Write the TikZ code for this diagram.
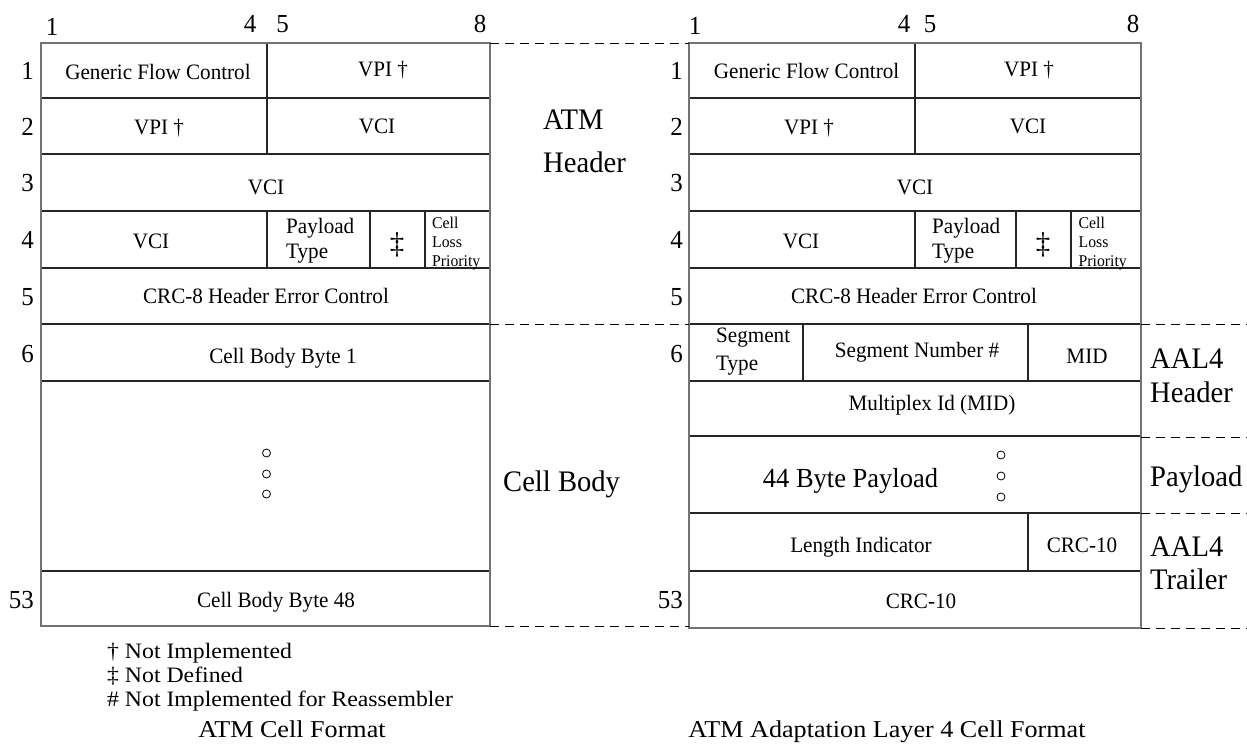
\documentclass[tikz,border=0pt]{standalone}
\usepackage{fontspec}
\setmainfont{Liberation Serif}
\newfontfamily\fa[FakeStretch=0.96]{Liberation Serif}
\newfontfamily\fb[FakeStretch=1.08]{Liberation Serif}
\begin{document}
\begin{tikzpicture}[x=1pt,y=-1pt,
  cell/.style={font=\fa\fontsize{22}{24}\selectfont, inner sep=0pt, anchor=base},
  cellw/.style={cell, anchor=base west},
  big/.style={font=\fa\fontsize{29.8}{34}\selectfont, inner sep=0pt, anchor=base west},
  num/.style={font=\fa\fontsize{26}{28}\selectfont, inner sep=0pt, anchor=base},
  rnum/.style={num, anchor=base east},
  small/.style={font=\fa\fontsize{16.4}{19}\selectfont, inner sep=0pt, anchor=base west},
  dag/.style={font=\fa\fontsize{30}{32}\selectfont, inner sep=0pt, anchor=base},
  note/.style={font=\fb\fontsize{22}{24}\selectfont, inner sep=0pt, anchor=base west},
  capt/.style={font=\fb\fontsize{24.2}{26}\selectfont, inner sep=0pt, anchor=base},
  border/.style={draw=black!55, line width=1.4pt},
  inner/.style={draw=black!85, line width=1.1pt},
  sep/.style={draw=black, line width=1pt, dash pattern=on 9pt off 6pt},
  dot/.style={circle, draw, line width=0.8pt, minimum size=8pt, inner sep=0pt}]
\useasboundingbox (0,0) rectangle (1247,744);

% ---------- left table lines ----------
\foreach \yy in {98,154,211,268,324,381,571}
  \draw[inner] (41,\yy) -- (490,\yy);
\draw[inner] (267,43) -- (267,154);
\draw[inner] (267,211) -- (267,268);
\draw[inner] (370,211) -- (370,268);
\draw[inner] (425,211) -- (425,268);
\draw[border] (41,43) rectangle (490,626);

% ---------- right table lines ----------
\foreach \yy in {98,154,211,268,324,381,436,513,571}
  \draw[inner] (689,\yy) -- (1141,\yy);
\draw[inner] (915,43) -- (915,154);
\draw[inner] (915,211) -- (915,268);
\draw[inner] (1016,211) -- (1016,268);
\draw[inner] (1071,211) -- (1071,268);
\draw[inner] (803,324) -- (803,381);
\draw[inner] (1028,324) -- (1028,381);
\draw[inner] (1028,513) -- (1028,571);
\draw[border] (689,43) rectangle (1141,628);

% ---------- dashed separators ----------
\draw[sep] (490,43.5) -- (689,43.5);
\draw[sep] (490,324) -- (689,324);
\draw[sep] (490,626) -- (689,626);
\draw[sep] (1141,324) -- (1247,324);
\draw[sep] (1141,437) -- (1247,437);
\draw[sep] (1141,513) -- (1247,513);
\draw[sep] (1141,628) -- (1247,628);

% ---------- column numbers ----------
\node[num] (cl1) at (52,35) {1};
\node[num] (cl4) at (250,32) {4};
\node[num] (cl5) at (282.5,32) {5};
\node[num] (cl8) at (480,32) {8};
\node[num] (cr1) at (695,34) {1};
\node[num] (cr4) at (904,32) {4};
\node[num] (cr5) at (930,32) {5};
\node[num] (cr8) at (1133,32) {8};

% ---------- row numbers ----------
\node[rnum] (rl1) at (34,79) {1};
\node[rnum] (rl2) at (34,135) {2};
\node[rnum] (rl3) at (34,191) {3};
\node[rnum] (rl4) at (34,248) {4};
\node[rnum] (rl5) at (34,305) {5};
\node[rnum] (rl6) at (34,362) {6};
\node[rnum] (rl53) at (34,608) {53};
\node[rnum] (rr1) at (683,79) {1};
\node[rnum] (rr2) at (683,135) {2};
\node[rnum] (rr3) at (683,191) {3};
\node[rnum] (rr4) at (683,248) {4};
\node[rnum] (rr5) at (683,305) {5};
\node[rnum] (rr6) at (683,362) {6};
\node[rnum] (rr53) at (683,608) {53};

% ---------- left table text ----------
\node[cell] (gfcL) at (158,79) {Generic Flow Control};
\node[cell] (vpiL1) at (383,76) {VPI †};
\node[cell] (vpiL2) at (159,134) {VPI †};
\node[cell] (vciL2) at (377,133) {VCI};
\node[cell] (vciL3) at (266,194) {VCI};
\node[cell] (vciL4) at (151,248) {VCI};
\node[cellw] (ptL1) at (286,233) {Payload};
\node[cellw] (ptL2) at (286,258) {Type};
\node[dag] (ddL) at (397,253) {‡};
\node[small] (clpL1) at (432,228) {Cell};
\node[small] (clpL2) at (432,247) {Loss};
\node[small] (clpL3) at (432,266) {Priority};
\node[cell] (crcL) at (266,303) {CRC-8 Header Error Control};
\node[cell] (cb1) at (283,363) {Cell Body Byte 1};
\node[dot] (dL1) at (266.5,453) {};
\node[dot] (dL2) at (266.5,474) {};
\node[dot] (dL3) at (266.5,494) {};
\node[cell] (cb48) at (276,607) {Cell Body Byte 48};

% ---------- right table text ----------
\node[cell] (gfcR) at (806.6,78) {Generic Flow Control};
\node[cell] (vpiR1) at (1029,76) {VPI †};
\node[cell] (vpiR2) at (809,134) {VPI †};
\node[cell] (vciR2) at (1028,133) {VCI};
\node[cell] (vciR3) at (915,194) {VCI};
\node[cell] (vciR4) at (801,248) {VCI};
\node[cellw] (ptR1) at (932,233) {Payload};
\node[cellw] (ptR2) at (932,258) {Type};
\node[dag] (ddR) at (1043,253) {‡};
\node[small] (clpR1) at (1078.5,228) {Cell};
\node[small] (clpR2) at (1078.5,247) {Loss};
\node[small] (clpR3) at (1078.5,266) {Priority};
\node[cell] (crcR) at (914,303) {CRC-8 Header Error Control};
\node[cellw] (stR1) at (716,342) {Segment};
\node[cellw] (stR2) at (716,370) {Type};
\node[cell] (segnum) at (917,357) {Segment Number \#};
\node[cell] (mid) at (1087,363) {MID};
\node[cell] (mplex) at (932,410) {Multiplex Id (MID)};
\node[cell, font=\fa\fontsize{27.6}{30}\selectfont] (pay44) at (850.5,487) {44 Byte Payload};
\node[dot] (dR1) at (1001,455) {};
\node[dot] (dR2) at (1001,476) {};
\node[dot] (dR3) at (1001,497) {};
\node[cell] (lenind) at (861,552) {Length Indicator};
\node[cell] (crc10a) at (1082,552) {CRC-10};
\node[cell] (crc10b) at (921,608) {CRC-10};

% ---------- section labels ----------
\node[big] (atm1) at (543,129) {ATM};
\node[big] (atm2) at (543,172) {Header};
\node[big] (cbody) at (503,491) {Cell Body};
\node[big] (aalh1) at (1150,368) {AAL4};
\node[big] (aalh2) at (1150,402) {Header};
\node[big] (payl) at (1150,486) {Payload};
\node[big] (aalt1) at (1150,556) {AAL4};
\node[big] (aalt2) at (1150,589) {Trailer};

% ---------- footnotes and captions ----------
\node[note] (fn1) at (107,658) {† Not Implemented};
\node[note] (fn2) at (107,682) {‡ Not Defined};
\node[note] (fn3) at (107,706) {\# Not Implemented for Reassembler};
\node[capt] (capL) at (292,737) {ATM Cell Format};
\node[capt] (capR) at (887,737) {ATM Adaptation Layer 4 Cell Format};
\end{tikzpicture}
\end{document}
